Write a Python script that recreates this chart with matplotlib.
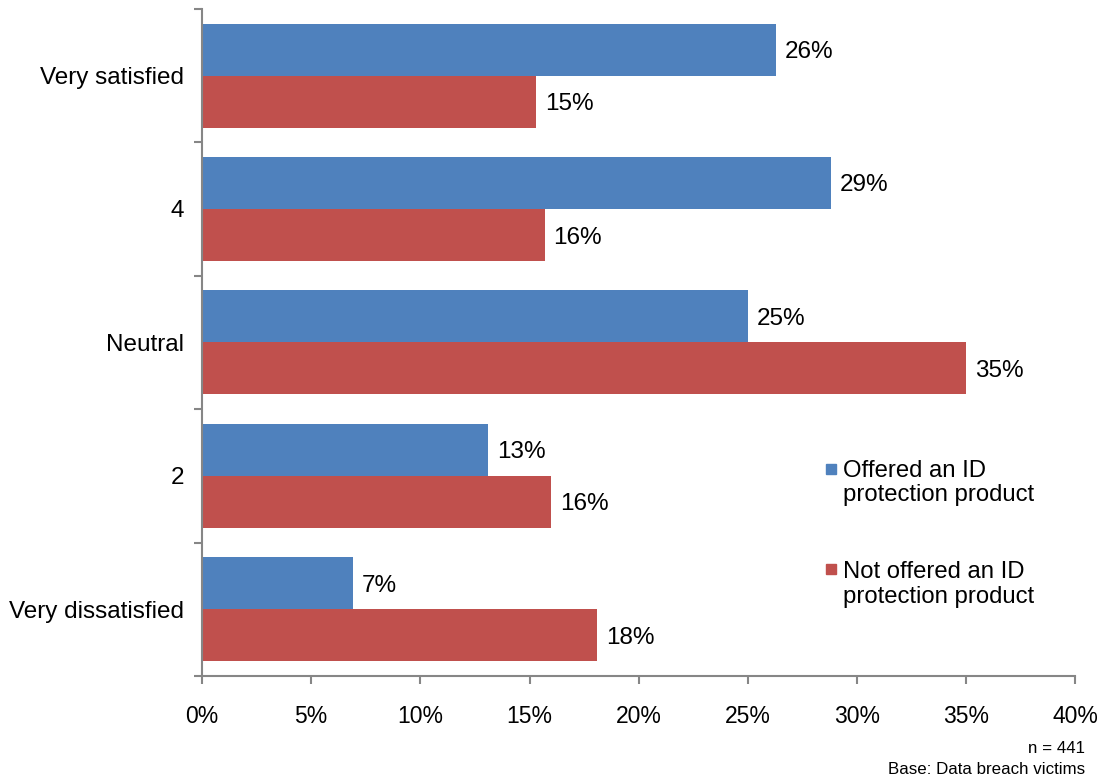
import numpy as np
import matplotlib.pyplot as plt
from matplotlib.patches import Rectangle
from matplotlib.ticker import PercentFormatter

plt.rcParams['font.family'] = ['Liberation Sans', 'DejaVu Sans']

categories = ['Very satisfied', '4', 'Neutral', '2', 'Very dissatisfied']
offered = [26.3, 28.8, 25.0, 13.1, 6.9]
not_offered = [15.3, 15.7, 35.0, 16.0, 18.1]
series_names = ['Offered an ID\nprotection product', 'Not offered an ID\nprotection product']
xticks = [0, 5, 10, 15, 20, 25, 30, 35, 40]

blue = '#4F81BD'
red = '#C0504D'
axis_gray = '#868686'

fig = plt.figure(figsize=(11.04, 7.83), dpi=100)
ax = fig.add_axes([0.183, 0.1367, 0.791, 0.852])

y = np.arange(len(categories))
h = 0.39
b1 = ax.barh(y - h / 2, offered, height=h, color=blue)
b2 = ax.barh(y + h / 2, not_offered, height=h, color=red)

for bars, vals in ((b1, offered), (b2, not_offered)):
    for bar, v in zip(bars, vals):
        ax.text(bar.get_width() + 0.4, bar.get_y() + bar.get_height() / 2,
                f'{round(v):.0f}%', va='center_baseline', ha='left', fontsize=17.5)

ax.set_ylim(len(categories) - 0.5, -0.5)
ax.set_xlim(0, 40)
ax.set_xticks(xticks)
ax.xaxis.set_major_formatter(PercentFormatter(decimals=0))
ax.set_yticks(y)
ax.set_yticklabels(categories)
ax.set_yticks(np.arange(-0.5, len(categories)), minor=True)
ax.tick_params(axis='y', which='major', length=0, labelsize=17.5, pad=13)
ax.tick_params(axis='y', which='minor', length=6, color=axis_gray, width=1.5)
ax.tick_params(axis='x', length=6, color=axis_gray, width=1.5, labelsize=16.5, pad=15)

for side in ('top', 'right'):
    ax.spines[side].set_visible(False)
for side in ('left', 'bottom'):
    ax.spines[side].set_color(axis_gray)
    ax.spines[side].set_linewidth(1.5)

# legend drawn by hand so the square sits next to the first line
legend_pos = [(0.3103, 0.2890), (0.1604, 0.1375)]
for name, color, (ys, yt) in zip(series_names, (blue, red), legend_pos):
    ax.add_patch(Rectangle((0.7148, ys - 0.0075), 0.0115, 0.015, color=color,
                           transform=ax.transAxes, clip_on=False))
    ax.text(0.734, yt, name, transform=ax.transAxes, va='center', ha='left',
            fontsize=17.2, linespacing=1.15)

fig.text(0.983, 0.035, 'n = 441', ha='right', va='bottom', fontsize=12.2)
fig.text(0.983, 0.008, 'Base: Data breach victims', ha='right', va='bottom', fontsize=12.2)

fig.savefig('out.png', dpi=100)
